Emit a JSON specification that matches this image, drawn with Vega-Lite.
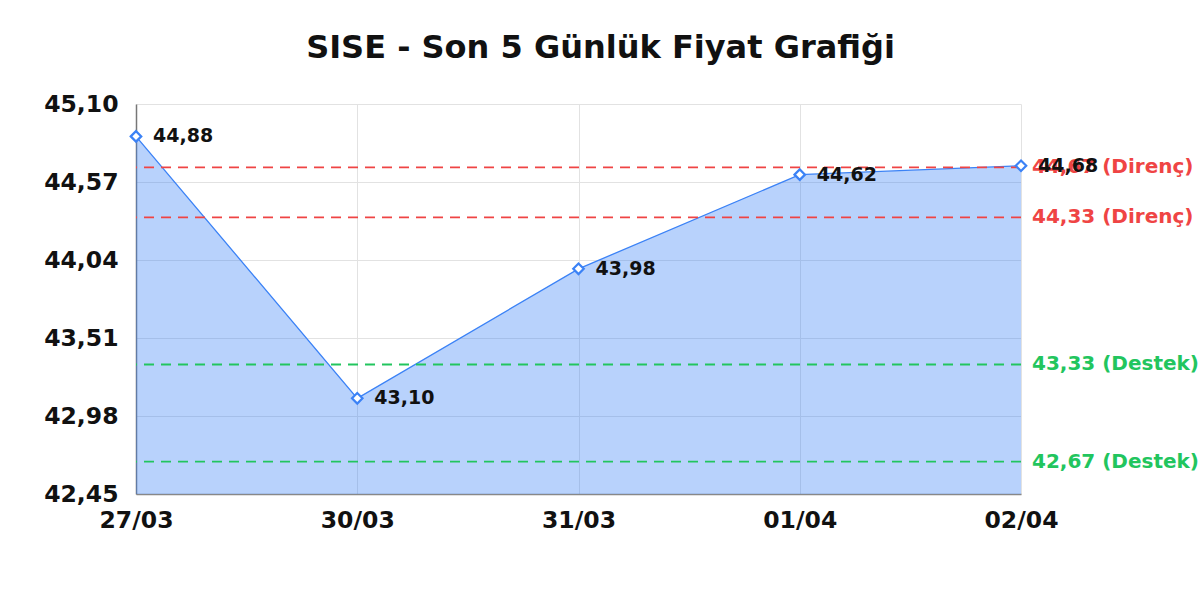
{
  "$schema": "https://vega.github.io/schema/vega-lite/v6.json",
  "width": 885,
  "height": 390,
  "autosize": "none",
  "padding": {"left": 136, "top": 104, "right": 179, "bottom": 106},
  "background": "white",
  "title": {
    "text": "SISE - Son 5 Günlük Fiyat Grafiği",
    "font": "DejaVu Sans",
    "fontSize": 32,
    "fontWeight": "bold",
    "color": "#111111",
    "anchor": "middle",
    "frame": "group",
    "dx": 22,
    "offset": 27
  },
  "config": {
    "view": {"stroke": null},
    "font": "DejaVu Sans"
  },
  "datasets": {
    "prices": [
      {"date": "27/03", "price": 44.88},
      {"date": "30/03", "price": 43.10},
      {"date": "31/03", "price": 43.98},
      {"date": "01/04", "price": 44.62},
      {"date": "02/04", "price": 44.68}
    ],
    "levels": [
      {"level": 44.67, "label": "44,67 (Direnç)", "kind": "Direnç"},
      {"level": 44.33, "label": "44,33 (Direnç)", "kind": "Direnç"},
      {"level": 43.33, "label": "43,33 (Destek)", "kind": "Destek"},
      {"level": 42.67, "label": "42,67 (Destek)", "kind": "Destek"}
    ]
  },
  "layer": [
    {
      "data": {"name": "prices"},
      "mark": {"type": "area", "color": "#3b82f6", "opacity": 0.36},
      "encoding": {
        "x": {
          "field": "date", "type": "ordinal", "sort": null,
          "scale": {"type": "point", "padding": 0},
          "axis": {
            "title": null, "labelAngle": 0, "labelFontSize": 23.5, "labelFontWeight": "bold",
            "labelColor": "#111111", "labelPadding": 14, "ticks": false,
            "domain": true, "domainColor": "#888888", "domainWidth": 1.5,
            "grid": true, "gridColor": "#e2e2e2", "gridWidth": 1
          }
        },
        "y": {
          "field": "price", "type": "quantitative",
          "scale": {"domain": [42.45, 45.10], "zero": false, "nice": false},
          "axis": {
            "title": null, "values": [42.45, 42.98, 43.51, 44.04, 44.57, 45.10],
            "labelExpr": "replace(format(datum.value, '.2f'), '.', ',')",
            "labelFontSize": 23.5, "labelFontWeight": "bold", "labelColor": "#111111",
            "labelPadding": 18, "ticks": false, "domain": true, "domainColor": "#777777",
            "domainWidth": 1.5, "grid": true, "gridColor": "#e2e2e2", "gridWidth": 1
          }
        },
        "y2": {"datum": 42.45}
      }
    },
    {
      "data": {"name": "prices"},
      "mark": {"type": "line", "color": "#3b82f6", "strokeWidth": 1.3},
      "encoding": {
        "x": {"field": "date", "type": "ordinal", "sort": null},
        "y": {"field": "price", "type": "quantitative"}
      }
    },
    {
      "data": {"name": "levels"},
      "mark": {"type": "rule", "strokeDash": [10, 7], "strokeWidth": 1.8, "opacity": 1},
      "encoding": {
        "y": {"field": "level", "type": "quantitative"},
        "color": {
          "field": "kind", "type": "nominal",
          "scale": {"domain": ["Direnç", "Destek"], "range": ["#ef4444", "#22c55e"]},
          "legend": null
        }
      }
    },
    {
      "data": {"name": "prices"},
      "mark": {"type": "point", "shape": "diamond", "size": 110, "filled": true, "fill": "white", "stroke": "#3b82f6", "strokeWidth": 2.2, "opacity": 1},
      "encoding": {
        "x": {"field": "date", "type": "ordinal", "sort": null},
        "y": {"field": "price", "type": "quantitative"}
      }
    },
    {
      "data": {"name": "levels"},
      "mark": {"type": "text", "align": "left", "baseline": "middle", "dx": 11, "fontSize": 20, "fontWeight": "bold"},
      "encoding": {
        "x": {"datum": "02/04", "type": "ordinal"},
        "y": {"field": "level", "type": "quantitative"},
        "text": {"field": "label"},
        "color": {"field": "kind", "type": "nominal", "legend": null}
      }
    },
    {
      "data": {"name": "prices"},
      "transform": [
        {"calculate": "replace(format(datum.price, '.2f'), '.', ',')", "as": "priceLabel"}
      ],
      "mark": {"type": "text", "align": "left", "baseline": "middle", "dx": 17, "fontSize": 19, "fontWeight": "bold", "color": "#111111"},
      "encoding": {
        "x": {"field": "date", "type": "ordinal", "sort": null},
        "y": {"field": "price", "type": "quantitative"},
        "text": {"field": "priceLabel"}
      }
    }
  ]
}
